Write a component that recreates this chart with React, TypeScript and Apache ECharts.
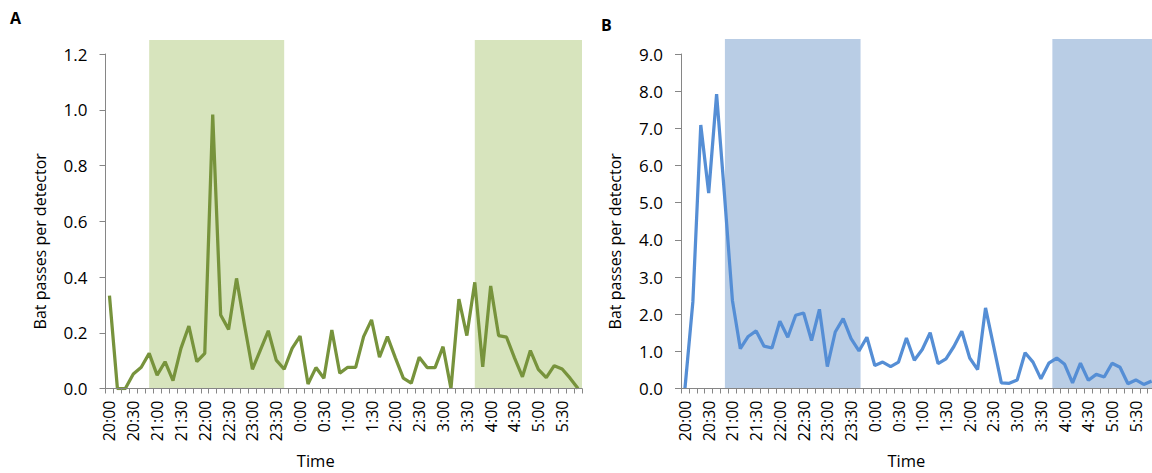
import React, { useEffect, useRef } from "react";
import * as echarts from "echarts";

const times = [
  "20:00", "20:10", "20:20", "20:30", "20:40", "20:50",
  "21:00", "21:10", "21:20", "21:30", "21:40", "21:50",
  "22:00", "22:10", "22:20", "22:30", "22:40", "22:50",
  "23:00", "23:10", "23:20", "23:30", "23:40", "23:50",
  "0:00", "0:10", "0:20", "0:30", "0:40", "0:50",
  "1:00", "1:10", "1:20", "1:30", "1:40", "1:50",
  "2:00", "2:10", "2:20", "2:30", "2:40", "2:50",
  "3:00", "3:10", "3:20", "3:30", "3:40", "3:50",
  "4:00", "4:10", "4:20", "4:30", "4:40", "4:50",
  "5:00", "5:10", "5:20", "5:30", "5:40", "5:50",
];

const valuesA = [
  0.333, 0, 0, 0.052, 0.076, 0.126, 0.048, 0.096, 0.028, 0.144,
  0.224, 0.096, 0.126, 0.983, 0.264, 0.212, 0.395, 0.228, 0.069, 0.138,
  0.207, 0.102, 0.069, 0.144, 0.188, 0.016, 0.075, 0.037, 0.21, 0.055,
  0.076, 0.076, 0.186, 0.246, 0.112, 0.186, 0.11, 0.037, 0.019, 0.112,
  0.075, 0.075, 0.15, 0, 0.321, 0.19, 0.381, 0.078, 0.368, 0.19,
  0.184, 0.11, 0.042, 0.136, 0.069, 0.039, 0.082, 0.07, 0.037, 0,
];

const valuesB = [
  0, 2.33, 7.09, 5.26, 7.92, 5.2, 2.37, 1.07, 1.4, 1.55,
  1.14, 1.09, 1.81, 1.38, 1.97, 2.03, 1.29, 2.13, 0.59, 1.52,
  1.88, 1.34, 1.01, 1.38, 0.62, 0.71, 0.59, 0.71, 1.36, 0.76,
  1.05, 1.5, 0.67, 0.8, 1.13, 1.54, 0.82, 0.51, 2.17, 1.16,
  0.15, 0.14, 0.23, 0.96, 0.71, 0.26, 0.68, 0.82, 0.65, 0.15,
  0.68, 0.22, 0.38, 0.31, 0.68, 0.57, 0.13, 0.23, 0.11, 0.2,
];

// shaded (night) periods, in category-index units
const shadeA = [
  [5, 22],
  [46, 59.5],
];
const shadeB = [
  [5.05, 22.2],
  [46.45, 59.5],
];

const yTicksA = { min: 0, max: 1.2, interval: 0.2 };
const yTicksB = { min: 0, max: 9, interval: 1 };

const FONT = "'Open Sans', 'Noto Sans', sans-serif";
const AXIS_COLOR = "#868686";

function catAxis(gridIndex: number, namePadRight: number) {
  return {
    type: "category",
    gridIndex,
    data: times,
    boundaryGap: true,
    z: 5,
    name: "Time",
    nameLocation: "middle",
    nameGap: 64,
    nameTextStyle: {
      fontFamily: FONT,
      fontSize: 16.5,
      lineHeight: 16,
      color: "#000",
      padding: [0, namePadRight, 0, 0],
    },
    axisLine: { show: true, lineStyle: { color: AXIS_COLOR, width: 1 } },
    axisTick: {
      show: true,
      interval: 0,
      alignWithLabel: false,
      length: 5,
      lineStyle: { color: AXIS_COLOR },
    },
    axisLabel: {
      interval: 2,
      rotate: 90,
      margin: 12,
      fontFamily: FONT,
      fontSize: 16,
      color: "#000",
      hideOverlap: false,
    },
    splitLine: { show: false },
  };
}

function valAxis(gridIndex: number, ticks: { min: number; max: number; interval: number }) {
  return {
    type: "value",
    gridIndex,
    min: ticks.min,
    max: ticks.max,
    interval: ticks.interval,
    z: 5,
    name: "Bat passes per detector",
    nameLocation: "middle",
    nameGap: 58,
    nameTextStyle: {
      fontFamily: FONT,
      fontSize: 16,
      color: "#000",
      padding: [0, 40, 0, 0],
    },
    axisLine: { show: true, lineStyle: { color: AXIS_COLOR, width: 1 } },
    axisTick: { show: true, length: 6, lineStyle: { color: AXIS_COLOR } },
    axisLabel: {
      margin: 18,
      fontFamily: FONT,
      fontSize: 17,
      color: "#000",
      formatter: (v: number) => v.toFixed(1),
    },
    splitLine: { show: false },
  };
}

function hiddenX(gridIndex: number) {
  return {
    type: "value",
    gridIndex,
    min: -0.5,
    max: 59.5,
    show: false,
    splitLine: { show: false },
  };
}

function hiddenY(gridIndex: number) {
  return {
    type: "value",
    gridIndex,
    min: 0,
    max: 1,
    show: false,
    splitLine: { show: false },
  };
}

function shadeSeries(xi: number, yi: number, ranges: number[][], color: string) {
  return {
    type: "line",
    xAxisIndex: xi,
    yAxisIndex: yi,
    data: [[0, 0]],
    symbol: "none",
    lineStyle: { opacity: 0 },
    silent: true,
    z: 1,
    markArea: {
      silent: true,
      itemStyle: { color, opacity: 1 },
      data: ranges.map((r) => [{ xAxis: r[0] }, { xAxis: r[1] }]),
    },
  };
}

export default function App() {
  const ref = useRef<HTMLDivElement>(null);

  useEffect(() => {
    if (!ref.current) return;
    const chart = echarts.init(ref.current, null, { renderer: "svg" });
    const gridA = { left: 105.5, right: 570, top: 54, bottom: 84.5, outerBoundsMode: "none", containLabel: false };
    const gridAShade = { ...gridA, top: 40 };
    const gridB = { left: 681, right: -3.6, top: 54, bottom: 84.5, outerBoundsMode: "none", containLabel: false };
    const gridBShade = { ...gridB, top: 39 };

    chart.setOption({
      animation: false,
      backgroundColor: "#fff",
      textStyle: { fontFamily: FONT },
      grid: [gridAShade, gridA, gridBShade, gridB],
      xAxis: [hiddenX(0), catAxis(1, 56), hiddenX(2), catAxis(3, 24)],
      yAxis: [hiddenY(0), valAxis(1, yTicksA), hiddenY(2), valAxis(3, yTicksB)],
      graphic: [
        {
          type: "text",
          left: 10,
          top: 10,
          style: { text: "A", font: `bold 16px ${FONT}`, fill: "#000" },
        },
        {
          type: "text",
          left: 601,
          top: 17,
          style: { text: "B", font: `bold 16px ${FONT}`, fill: "#000" },
        },
      ],
      series: [
        shadeSeries(0, 0, shadeA, "#D7E4BD"),
        shadeSeries(2, 2, shadeB, "#B9CDE5"),
        {
          type: "line",
          xAxisIndex: 1,
          yAxisIndex: 1,
          data: valuesA,
          symbol: "none",
          z: 3,
          lineStyle: { color: "#77933C", width: 3.25 },
          itemStyle: { color: "#77933C" },
        },
        {
          type: "line",
          xAxisIndex: 3,
          yAxisIndex: 3,
          data: valuesB,
          symbol: "none",
          z: 3,
          lineStyle: { color: "#558ED5", width: 3.25 },
          itemStyle: { color: "#558ED5" },
        },
      ],
    });
    return () => chart.dispose();
  }, []);

  return (
    <div
      ref={ref}
      style={{ position: "absolute", left: 0, top: 0, width: 1152, height: 473, overflow: "hidden" }}
    />
  );
}
